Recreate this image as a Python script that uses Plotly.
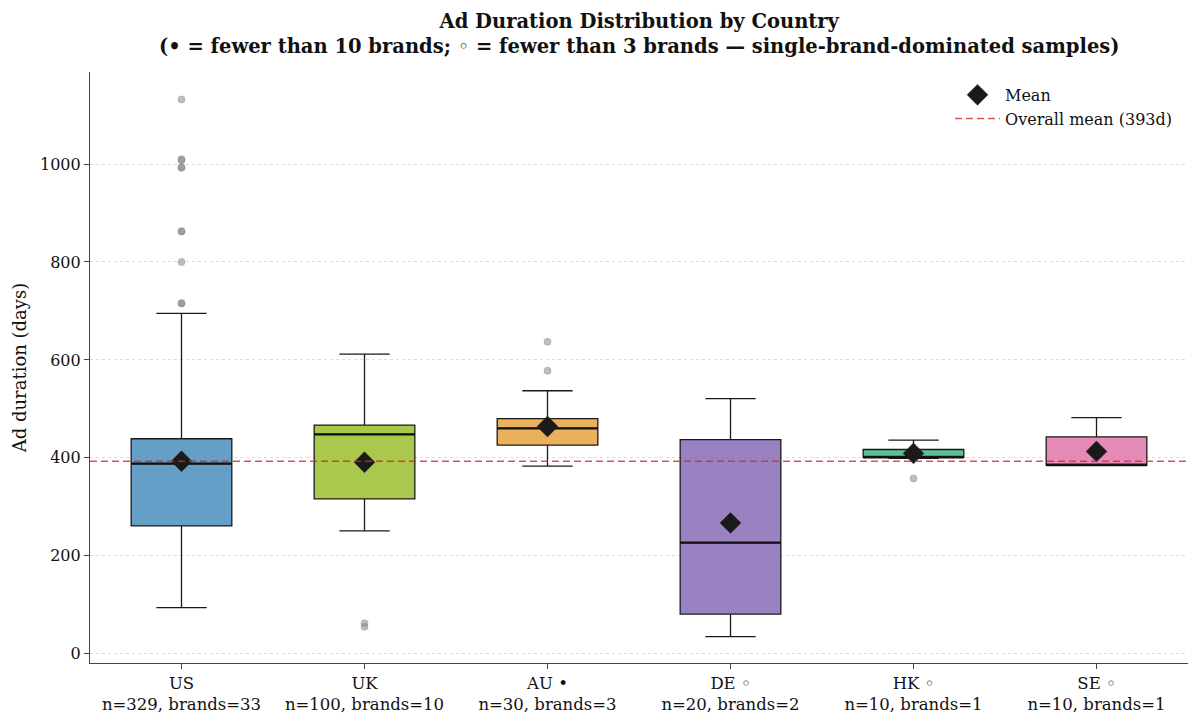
import plotly.graph_objects as go

countries = ["US", "UK", "AU •", "DE ◦", "HK ◦", "SE ◦"]
n_ads = [329, 100, 30, 20, 10, 10]
n_brands = [33, 10, 3, 2, 1, 1]
q1 = [261, 316, 426, 81, 401, 385]
median = [388, 448, 460, 227, 401, 385]
q3 = [439, 467, 480, 437, 417, 443]
lower_whisker = [94, 251, 383, 35, 399, 385]
upper_whisker = [695, 612, 537, 521, 436, 482]
means = [393, 391, 464, 267, 409, 413]
colors = ["#659ec6", "#aac84c", "#ebb05c", "#9a82c2", "#5cbf99", "#e68ab8"]
outliers = [
    [1132, 1010, 1008, 994, 992, 863, 862, 800, 716, 715],
    [62, 55],
    [637, 578],
    [],
    [358],
    [],
]
overall_mean = 393
yticks = [0, 200, 400, 600, 800, 1000]

xpos = list(range(len(countries)))
ticktext = [f"{c}<br>n={n}, brands={b}" for c, n, b in zip(countries, n_ads, n_brands)]
box_w = 0.55

fig = go.Figure()

for i in xpos:
    fig.add_trace(go.Box(
        x=[i], q1=[q1[i]], median=[median[i]], q3=[q3[i]],
        lowerfence=[lower_whisker[i]], upperfence=[upper_whisker[i]],
        width=box_w, whiskerwidth=0.5, boxpoints=False,
        fillcolor=colors[i], line=dict(color="#1a1a1a", width=1.3),
        showlegend=False, hoverinfo="skip",
    ))
    fig.add_trace(go.Scatter(
        x=[i - box_w / 2, i + box_w / 2], y=[median[i], median[i]],
        mode="lines", line=dict(color="#111111", width=2.2),
        showlegend=False, hoverinfo="skip",
    ))
    if outliers[i]:
        fig.add_trace(go.Scatter(
            x=[i] * len(outliers[i]), y=outliers[i], mode="markers",
            marker=dict(color="rgba(128,128,128,0.5)", size=7,
                        line=dict(color="rgba(128,128,128,0.4)", width=1)),
            showlegend=False, hoverinfo="skip",
        ))

fig.add_trace(go.Scatter(
    x=xpos, y=means, mode="markers", name="Mean",
    marker=dict(symbol="diamond", size=16, color="#1a1a1a",
                line=dict(color="#1a1a1a", width=0.5)),
))

fig.add_trace(go.Scatter(
    x=[-0.5, len(countries) - 0.5], y=[overall_mean, overall_mean],
    mode="lines", name=f"Overall mean ({overall_mean}d)",
    line=dict(color="rgba(214,39,40,0.8)", width=1.5, dash="7px,4px"),
))

fig.add_annotation(
    text="<b>Ad Duration Distribution by Country</b><br>"
         "<b>(• = fewer than 10 brands; ◦ = fewer than 3 brands — single-brand-dominated samples)</b>",
    xref="paper", yref="paper", x=0.5, y=1 + (72 - 8) / 591,
    xanchor="center", yanchor="top", showarrow=False,
    font=dict(family="DejaVu Serif", size=19.5, color="#111111"),
    align="center",
)

fig.update_layout(
    width=1200, height=722,
    margin=dict(l=90, r=12, t=72, b=59, autoexpand=False),
    paper_bgcolor="white", plot_bgcolor="white",
    font=dict(family="DejaVu Serif", size=16, color="#111111"),
    legend=dict(
        x=0.99, y=0.99, xanchor="right", yanchor="top",
        bgcolor="rgba(255,255,255,0)", borderwidth=0, itemwidth=45,
        font=dict(family="DejaVu Serif", size=16),
    ),
)

fig.update_xaxes(
    range=[-0.5, len(countries) - 0.5],
    tickmode="array", tickvals=xpos, ticktext=ticktext,
    showgrid=False, zeroline=False, automargin=False,
    showline=True, linecolor="#444444", linewidth=1.2,
    ticks="outside", ticklen=5, tickcolor="#444444",
    tickfont=dict(family="DejaVu Serif", size=16.5),
)
fig.update_yaxes(
    range=[-19, 1188],
    tickmode="array", tickvals=yticks, automargin=False,
    showgrid=True, gridcolor="#dddddd", gridwidth=0.8, griddash="dot",
    zeroline=False,
    showline=True, linecolor="#444444", linewidth=1.2,
    ticks="outside", ticklen=5, tickcolor="#444444",
    tickfont=dict(family="DejaVu Serif", size=16),
    title=dict(text="Ad duration (days)", font=dict(family="DejaVu Serif", size=18), standoff=8),
)

fig.write_html("out.html")
